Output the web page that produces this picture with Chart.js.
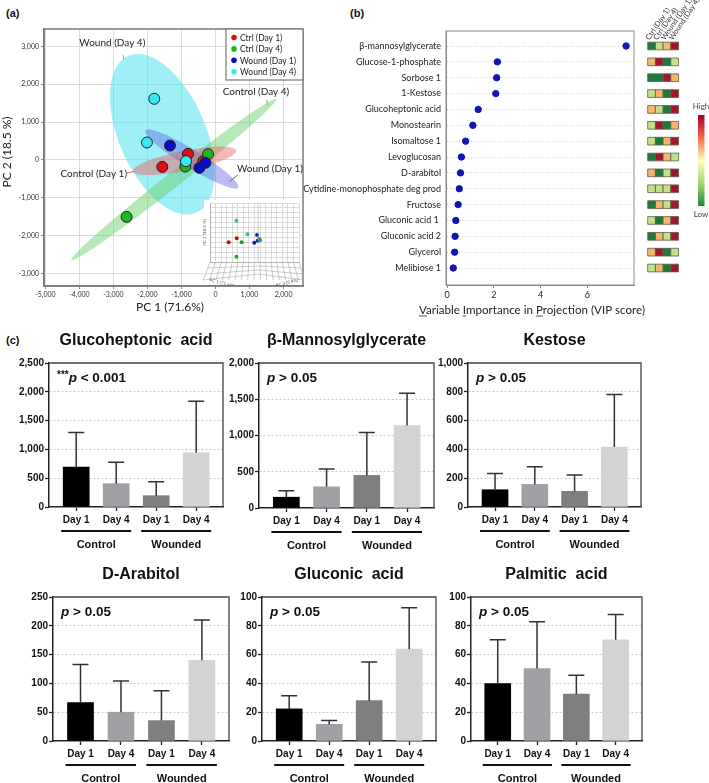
<!DOCTYPE html>
<html>
<head>
<meta charset="utf-8">
<script src="https://cdn.jsdelivr.net/npm/chart.js"></script>
<style>
body { margin: 0; background: #fff; width: 709px; height: 783px; overflow: hidden; position: relative; }
canvas { position: absolute; }
.plab { position: absolute; font: bold 11px "Liberation Sans", Arial, sans-serif; color: #111; }
</style>
</head>
<body>
<div class="plab" style="left:6px;top:7px">(a)</div>
<div class="plab" style="left:350px;top:7px">(b)</div>
<div class="plab" style="left:6px;top:334px">(c)</div>
<canvas id="pca" width="320" height="320" style="left:0;top:0"></canvas>
<canvas id="inset" width="108" height="88" style="left:196px;top:198px"></canvas>
<canvas id="vip" width="360" height="320" style="left:300px;top:0"></canvas>
<canvas id="heat" width="69" height="320" style="left:640px;top:0"></canvas>
<canvas id="c1"></canvas>
<canvas id="c2"></canvas>
<canvas id="c3"></canvas>
<canvas id="c4"></canvas>
<canvas id="c5"></canvas>
<canvas id="c6"></canvas>
<script>
// ---------- data: (a) PCA scores ----------
var pcaGroups = ['Ctrl (Day 1)', 'Ctrl (Day 4)', 'Wound (Day 1)', 'Wound (Day 4)'];
var pc1CtrlDay1 = [-1564, -808, -356];
var pc2CtrlDay1 = [-185, 159, -35];
var pc1CtrlDay4 = [-886, -219, -2614];
var pc2CtrlDay4 = [-176, 150, -1508];
var pc1WoundDay1 = [-1338, -474, -297];
var pc2WoundDay1 = [379, -212, -79];
var pc1WoundDay4 = [-1800, -2015, -867];
var pc2WoundDay4 = [1615, 459, -35];
var pc1Ticks = [-5000, -4000, -3000, -2000, -1000, 0, 1000, 2000];
var pc2Ticks = [-3000, -2000, -1000, 0, 1000, 2000, 3000];

// group ellipses in score units: centre, half axis a, half axis b
var ellipseNames = ['Control (Day 1)', 'Control (Day 4)', 'Wound (Day 1)', 'Wound (Day 4)'];
var ellipseCentre = [[-906, -26], [-1225, -521], [-695, 22], [-1564, 679]];
var ellipseAxisA = [[1512, 274], [3009, 2127], [1360, -754], [1001, -2074]];
var ellipseAxisB = [[58, -259], [134, -153], [-139, -203], [1168, 459]];
var ellipseTextAt = [[-3577, -371], [1190, 1792], [1600, -246], [-3032, 3090]];
var ellipseLeader = [[[-2634, -352], [-2398, -310]], [[1512, 1589], [1530, 1430]],
                     [[657, -397], [410, -575]], [[-2716, 2780], [-2696, 2648]]];

// 3D inset, projected positions (inset units 0-100)
var insetX = [[30, 21], [35.5, 29.7, 55.4], [52.9, 49.7, 53.6], [29.7, 42.1, 56.5]];
var insetY = [[40.2, 33.4], [33.4, 9, 39], [45.8, 32.7, 36.1], [70, 47, 36.8]];

// ---------- data: (b) VIP ----------
var vipNames = ['\u03b2-mannosylglycerate', 'Glucose-1-phosphate', 'Sorbose 1', '1-Kestose',
  'Glucoheptonic acid', 'Monostearin', 'Isomaltose 1', 'Levoglucosan', 'D-arabitol',
  'Cytidine-monophosphate deg prod', 'Fructose', 'Gluconic acid 1 ', 'Gluconic acid 2',
  'Glycerol', 'Melibiose 1'];
var vipScores = [7.66, 2.15, 2.12, 2.08, 1.33, 1.10, 0.79, 0.61, 0.57, 0.52, 0.47, 0.37, 0.34, 0.32, 0.26];
var vipTicks = [0, 2, 4, 6];
// relative level, 1 = low ... 4 = high
var heatCtrlDay1 = [1, 3, 1, 2, 3, 2, 2, 1, 3, 2, 1, 2, 1, 3, 2];
var heatCtrlDay4 = [2, 4, 1, 3, 2, 4, 1, 4, 1, 2, 3, 1, 3, 4, 3];
var heatWoundDay1 = [3, 1, 4, 1, 1, 1, 3, 3, 2, 2, 2, 3, 2, 1, 1];
var heatWoundDay4 = [4, 2, 3, 4, 4, 3, 4, 2, 4, 4, 4, 4, 4, 2, 4];

// ---------- data: (c) bar charts ----------
var dayLabels = ['Day 1', 'Day 4', 'Day 1', 'Day 4'];
var groupLabels = ['Control', 'Wounded'];
var glucoheptonicMean = [694, 405, 197, 942];
var glucoheptonicSd = [601, 370, 242, 896];
var mannosylMean = [149, 292, 450, 1137];
var mannosylSd = [88, 247, 590, 446];
var kestoseMean = [120, 157, 109, 416];
var kestoseSd = [113, 123, 113, 365];
var arabitolMean = [66.7, 50, 35.4, 140];
var arabitolSd = [66, 54, 52, 70];
var gluconicMean = [22.3, 11.6, 28, 63.8];
var gluconicSd = [9.2, 2.6, 26.8, 28.8];
var palmiticMean = [39.9, 50.3, 32.5, 70.3];
var palmiticSd = [30.4, 32.5, 13.2, 17.6];

Chart.defaults.font.family = 'Lato';
Chart.defaults.animation = false;

var pointColors = ['#e01010', '#22b522', '#0a0ac8', '#35e8f2'];
var ellipseFill = ['rgba(238,95,95,0.45)', 'rgba(95,205,95,0.45)', 'rgba(95,95,225,0.42)', 'rgba(80,225,240,0.55)'];
var leaderColor = ['#e06a50', '#6cbf6c', '#6a5ac0', '#6cc8cc'];

function fixTicks(list) {
    return function(s) { s.ticks = list.map(function(v){ return {value: v}; }); };
}
function fmt(v) { return v.toLocaleString('en-US'); }

// ---------- (a) PCA ----------
var pcaX = [pc1CtrlDay1, pc1CtrlDay4, pc1WoundDay1, pc1WoundDay4];
var pcaY = [pc2CtrlDay1, pc2CtrlDay4, pc2WoundDay1, pc2WoundDay4];

var pcaExtras = {
    id: 'pcaExtras',
    beforeDatasetsDraw: function(chart) {
        var ctx = chart.ctx, xs = chart.scales.x, ys = chart.scales.y, a = chart.chartArea;
        ctx.save();
        ctx.beginPath(); ctx.rect(a.left, a.top, a.right - a.left, a.bottom - a.top); ctx.clip();
        [3, 1, 2, 0].forEach(function(k) {
            var c = ellipseCentre[k], u = ellipseAxisA[k], w = ellipseAxisB[k];
            ctx.beginPath();
            for (var s = 0; s <= 96; s++) {
                var t = s / 96 * Math.PI * 2;
                var px = xs.getPixelForValue(c[0] + u[0] * Math.cos(t) + w[0] * Math.sin(t));
                var py = ys.getPixelForValue(c[1] + u[1] * Math.cos(t) + w[1] * Math.sin(t));
                if (s === 0) ctx.moveTo(px, py); else ctx.lineTo(px, py);
            }
            ctx.closePath();
            ctx.fillStyle = ellipseFill[k];
            ctx.fill();
        });
        ctx.restore();
    },
    afterDatasetsDraw: function(chart) {
        var ctx = chart.ctx, xs = chart.scales.x, ys = chart.scales.y, a = chart.chartArea;
        ctx.save();
        // frame top/right
        ctx.strokeStyle = '#7a7a7a'; ctx.lineWidth = 1.5;
        ctx.strokeRect(a.left, a.top, a.right - a.left, a.bottom - a.top);
        // ellipse labels with leader lines
        ctx.font = '10px Lato'; ctx.fillStyle = '#222';
        ctx.textAlign = 'center'; ctx.textBaseline = 'middle';
        ellipseNames.forEach(function(n, k) {
            ctx.fillText(n, xs.getPixelForValue(ellipseTextAt[k][0]), ys.getPixelForValue(ellipseTextAt[k][1]));
            var l = ellipseLeader[k];
            ctx.strokeStyle = leaderColor[k]; ctx.lineWidth = 1;
            ctx.beginPath();
            ctx.moveTo(xs.getPixelForValue(l[0][0]), ys.getPixelForValue(l[0][1]));
            ctx.lineTo(xs.getPixelForValue(l[1][0]), ys.getPixelForValue(l[1][1]));
            ctx.stroke();
        });
        // legend
        var lx = a.right - 77, ly = a.top;
        ctx.fillStyle = '#fff'; ctx.fillRect(lx, ly, 77, 51);
        ctx.strokeStyle = '#777'; ctx.lineWidth = 1.2; ctx.strokeRect(lx, ly, 77, 51);
        ctx.font = '8.5px Lato'; ctx.textAlign = 'left';
        pcaGroups.forEach(function(g, k) {
            var yy = ly + 8.5 + k * 11.4;
            ctx.fillStyle = pointColors[k];
            ctx.beginPath(); ctx.arc(lx + 8, yy, 2.8, 0, Math.PI * 2); ctx.fill();
            ctx.fillStyle = '#222';
            ctx.fillText(g, lx + 14, yy + 0.5);
        });
        // axis titles
        ctx.font = '12px Lato'; ctx.textAlign = 'center';
        ctx.fillText('PC 1 (71.6%)', 170, 307);
        ctx.translate(7, 152); ctx.rotate(-Math.PI / 2);
        ctx.fillText('PC 2 (18.5 %)', 0, 0);
        ctx.restore();
    }
};

new Chart(document.getElementById('pca'), {
    type: 'scatter',
    data: {
        datasets: pcaGroups.map(function(g, k) {
            return {
                label: g,
                data: pcaX[k].map(function(x, i) { return {x: x, y: pcaY[k][i]}; }),
                backgroundColor: pointColors[k],
                borderColor: '#222',
                borderWidth: 1,
                pointRadius: 5.5,
                order: 4 - k
            };
        })
    },
    options: {
        responsive: false,
        layout: {padding: {top: 29, right: 17, left: 0, bottom: 0}},
        plugins: {legend: {display: false}, tooltip: {enabled: false}},
        scales: {
            x: {
                min: -5041, max: 2572,
                afterBuildTicks: fixTicks(pc1Ticks),
                afterFit: function(s) { s.height = 34; },
                ticks: {callback: fmt, font: {size: 7}, color: '#333', padding: 2, maxRotation: 0, autoSkip: false},
                grid: {color: '#dcdcdc', tickColor: '#888', tickLength: 3},
                border: {color: '#7a7a7a', width: 1.5}
            },
            y: {
                min: -3336, max: 3461,
                afterBuildTicks: fixTicks(pc2Ticks),
                afterFit: function(s) { s.width = 44; },
                ticks: {callback: fmt, font: {size: 7}, color: '#333', padding: 2, autoSkip: false},
                grid: {color: '#dcdcdc', tickColor: '#888', tickLength: 3},
                border: {color: '#7a7a7a', width: 1.5}
            }
        }
    },
    plugins: [pcaExtras]
});

// small 3D score plot inset
var insetColors = ['#b01515', '#2a9a2a', '#1515aa', '#3ab8b0'];
var insetExtras = {
    id: 'insetExtras',
    beforeDraw: function(chart) {
        var ctx = chart.ctx;
        ctx.save(); ctx.fillStyle = '#fff'; ctx.fillRect(8, 2, 96, 84); ctx.restore();
    },
    afterDraw: function(chart) {
        var ctx = chart.ctx, a = chart.chartArea;
        var cx = chart.scales.x.getPixelForValue(54);
        ctx.save();
        ctx.strokeStyle = '#aaa'; ctx.lineWidth = 0.6;
        ctx.beginPath(); ctx.moveTo(cx, a.top); ctx.lineTo(cx, a.bottom); ctx.stroke();
        for (var k = 0; k <= 16; k++) {
            var x0 = a.left + (a.right - a.left) * k / 16;
            ctx.beginPath(); ctx.moveTo(x0, a.bottom); ctx.lineTo(x0 + (x0 - cx) * 0.14, a.bottom + 18); ctx.stroke();
        }
        for (var j = 1; j <= 3; j++) {
            var yy = a.bottom + 6 * j, f = 0.14 * j / 3;
            ctx.beginPath();
            ctx.moveTo(a.left + (a.left - cx) * f, yy); ctx.lineTo(cx, yy - 2 * j);
            ctx.lineTo(a.right + (a.right - cx) * f, yy); ctx.stroke();
        }
        ctx.fillStyle = '#555'; ctx.font = '4.5px Lato'; ctx.textAlign = 'center'; ctx.textBaseline = 'middle';
        ctx.save(); ctx.translate(9, (a.top + a.bottom) / 2); ctx.rotate(-Math.PI / 2);
        ctx.fillText('PC 2 (18.5 %)', 0, 0); ctx.restore();
        ctx.save(); ctx.translate(a.left + 12, a.bottom + 21); ctx.rotate(0.25);
        ctx.fillText('PC 1 (71.6%)', 0, 0); ctx.restore();
        ctx.save(); ctx.translate(a.right - 12, a.bottom + 21); ctx.rotate(-0.25);
        ctx.fillText('PC 3 (5.9%)', 0, 0); ctx.restore();
        ctx.restore();
    }
};
new Chart(document.getElementById('inset'), {
    type: 'scatter',
    data: {
        datasets: insetX.map(function(xs, k) {
            return {
                data: xs.map(function(x, i) { return {x: x, y: insetY[k][i]}; }),
                backgroundColor: insetColors[k], borderWidth: 0, pointRadius: 2
            };
        })
    },
    options: {
        responsive: false,
        layout: {padding: {top: 5, right: 5, left: 14, bottom: 24}},
        plugins: {legend: {display: false}, tooltip: {enabled: false}},
        scales: {
            x: {min: 0, max: 100, ticks: {display: false, stepSize: 6.25}, afterFit: function(s) { s.height = 0; },
                grid: {color: '#bbb', lineWidth: 0.5, drawTicks: false}, border: {color: '#999', width: 0.6}},
            y: {min: 0, max: 100, ticks: {display: false, stepSize: 100 / 12}, afterFit: function(s) { s.width = 0; },
                grid: {color: '#bbb', lineWidth: 0.5, drawTicks: false}, border: {color: '#999', width: 0.6}}
        }
    },
    plugins: [insetExtras]
});

// ---------- (b) VIP ----------
var vipExtras = {
    id: 'vipExtras',
    afterDraw: function(chart) {
        var ctx = chart.ctx, a = chart.chartArea;
        ctx.save();
        ctx.strokeStyle = '#8a8a8a'; ctx.lineWidth = 1;
        ctx.strokeRect(a.left, a.top, a.right - a.left, a.bottom - a.top);
        var title = 'Variable Importance in Projection (VIP score)';
        ctx.font = '11.6px Lato'; ctx.fillStyle = '#222'; ctx.textBaseline = 'alphabetic';
        var w = ctx.measureText(title).width;
        var x0 = 232 - w / 2, y0 = 314;
        ctx.fillText(title, x0, y0);
        ctx.lineWidth = 0.8; ctx.strokeStyle = '#222';
        [0, 9, 23].forEach(function(i) {
            var sx = x0 + ctx.measureText(title.slice(0, i)).width;
            var cw = ctx.measureText(title[i]).width;
            ctx.beginPath(); ctx.moveTo(sx, y0 + 2); ctx.lineTo(sx + cw, y0 + 2); ctx.stroke();
        });
        ctx.restore();
    }
};
new Chart(document.getElementById('vip'), {
    type: 'scatter',
    data: {
        datasets: [{
            data: vipScores.map(function(v, i) { return {x: v, y: i}; }),
            backgroundColor: '#1414b4', borderColor: '#1414b4', pointRadius: 3.2
        }]
    },
    options: {
        responsive: false,
        layout: {padding: {top: 31, right: 26, left: 0, bottom: 0}},
        plugins: {legend: {display: false}, tooltip: {enabled: false}},
        scales: {
            x: {
                min: -0.05, max: 8,
                afterBuildTicks: fixTicks(vipTicks),
                afterFit: function(s) { s.height = 35; },
                ticks: {font: {size: 9}, color: '#222', padding: 2, autoSkip: false, maxRotation: 0},
                grid: {drawOnChartArea: false, tickColor: '#888', tickLength: 3},
                border: {color: '#8a8a8a', width: 1}
            },
            y: {
                reverse: true, min: -0.946, max: 15.07,
                afterBuildTicks: fixTicks(vipNames.map(function(n, i) { return i; })),
                afterFit: function(s) { s.width = 146; },
                ticks: {callback: function(v) { return vipNames[v]; }, font: {size: 9}, color: '#222', padding: 5, autoSkip: false},
                grid: {color: '#c4c4c4', lineWidth: 0.8, drawTicks: false},
                border: {color: '#8a8a8a', width: 1, dash: [1, 2]}
            }
        }
    },
    plugins: [vipExtras]
});

// heat map of relative levels
var heatCols = [heatCtrlDay1, heatCtrlDay4, heatWoundDay1, heatWoundDay4];
var heatColors = ['#1b7b3f', '#c3e287', '#f7b46c', '#a5162c'];
var heatCells = [];
heatCols.forEach(function(col, k) {
    col.forEach(function(v, i) { heatCells.push({x: k, y: i, v: v}); });
});
var heatExtras = {
    id: 'heatExtras',
    afterDraw: function(chart) {
        var ctx = chart.ctx, xs = chart.scales.x, ys = chart.scales.y;
        ctx.save();
        ctx.font = '7.4px Lato'; ctx.fillStyle = '#333'; ctx.textBaseline = 'alphabetic';
        var top = ys.getPixelForValue(0) - 5.5;
        pcaGroups.forEach(function(g, k) {
            ctx.save();
            ctx.translate(xs.getPixelForValue(k) - 2, top);
            ctx.rotate(-0.98);
            ctx.fillText(g, 0, 0);
            ctx.restore();
        });
        var grad = ctx.createLinearGradient(0, 115, 0, 206);
        grad.addColorStop(0, '#a50026');
        grad.addColorStop(0.25, '#f46d43');
        grad.addColorStop(0.5, '#ffffbf');
        grad.addColorStop(0.75, '#a6d96a');
        grad.addColorStop(1, '#1a8a3e');
        ctx.fillStyle = grad; ctx.fillRect(58, 115, 6.5, 91);
        ctx.fillStyle = '#444'; ctx.font = '8px Lato'; ctx.textAlign = 'center'; ctx.textBaseline = 'middle';
        ctx.fillText('High', 61, 106);
        ctx.fillText('Low', 61, 214);
        ctx.restore();
    }
};
new Chart(document.getElementById('heat'), {
    type: 'scatter',
    data: {
        datasets: [{
            data: heatCells,
            pointStyle: 'rect', pointRadius: 5.45,
            backgroundColor: heatCells.map(function(c) { return heatColors[c.v - 1]; }),
            borderColor: '#5e5e48', borderWidth: 0.8
        }]
    },
    options: {
        responsive: false,
        layout: {padding: {top: 31, right: 29, left: 5, bottom: 35}},
        plugins: {legend: {display: false}, tooltip: {enabled: false}},
        scales: {
            x: {display: false, min: -0.6875, max: 3.6875},
            y: {display: false, reverse: true, min: -0.946, max: 15.07}
        }
    },
    plugins: [heatExtras]
});

// ---------- (c) bar charts ----------
var barColors = ['#000000', '#a0a0a4', '#7f7f7f', '#d3d3d3'];
var barFont = '"Liberation Sans", Arial, sans-serif';

function barChart(id, box, title, stars, note, mean, sd, yMax, yStep) {
    var padL = 45, padT = 32, padR = 8, padB = 46;
    var cv = document.getElementById(id);
    cv.width = box[2] - box[0] + padL + padR;
    cv.height = box[3] - box[1] + padT + padB;
    cv.style.left = (box[0] - padL) + 'px';
    cv.style.top = (box[1] - padT) + 'px';

    var extras = {
        id: 'barExtras',
        afterDatasetsDraw: function(chart) {
            var ctx = chart.ctx, ys = chart.scales.y;
            ctx.save();
            ctx.strokeStyle = '#333'; ctx.lineWidth = 1.5;
            chart.getDatasetMeta(0).data.forEach(function(bar, i) {
                var top = ys.getPixelForValue(mean[i] + sd[i]);
                ctx.beginPath();
                ctx.moveTo(bar.x, bar.y); ctx.lineTo(bar.x, top);
                ctx.moveTo(bar.x - 8, top); ctx.lineTo(bar.x + 8, top);
                ctx.stroke();
            });
            ctx.restore();
        },
        afterDraw: function(chart) {
            var ctx = chart.ctx, a = chart.chartArea, xs = chart.scales.x;
            ctx.save();
            // top and right of the frame
            ctx.strokeStyle = '#444'; ctx.lineWidth = 1.3;
            ctx.beginPath();
            ctx.moveTo(a.left, a.top); ctx.lineTo(a.right, a.top); ctx.lineTo(a.right, a.bottom);
            ctx.stroke();
            // title
            ctx.fillStyle = '#111'; ctx.textAlign = 'center'; ctx.textBaseline = 'middle';
            ctx.font = 'bold 16px ' + barFont;
            ctx.fillText(title, (a.left + a.right) / 2, a.top - 22);
            // p value note
            ctx.textAlign = 'left';
            var x = a.left + 8, y = a.top + 15.5;
            if (stars) {
                ctx.font = 'bold 10px ' + barFont;
                ctx.fillText(stars, x, y - 3);
                x += ctx.measureText(stars).width;
            }
            ctx.font = 'italic bold 13.5px ' + barFont;
            ctx.fillText('p', x, y);
            x += ctx.measureText('p').width;
            ctx.font = 'bold 13.5px ' + barFont;
            ctx.fillText(note, x, y);
            // group underlines and names
            ctx.lineWidth = 2; ctx.strokeStyle = '#111';
            ctx.font = 'bold 11px ' + barFont; ctx.textAlign = 'center';
            groupLabels.forEach(function(g, k) {
                var x1 = xs.getPixelForValue(2 * k) - 15, x2 = xs.getPixelForValue(2 * k + 1) + 15;
                ctx.beginPath(); ctx.moveTo(x1, a.bottom + 24); ctx.lineTo(x2, a.bottom + 24); ctx.stroke();
                ctx.fillText(g, (x1 + x2) / 2, a.bottom + 37.5);
            });
            ctx.restore();
        }
    };

    return new Chart(cv, {
        type: 'bar',
        data: {
            datasets: [{
                data: mean.map(function(v, i) { return {x: i, y: v}; }),
                backgroundColor: barColors,
                borderWidth: 0,
                barThickness: 26
            }]
        },
        options: {
            responsive: false,
            layout: {padding: {top: padT, right: padR, left: 0, bottom: 0}},
            plugins: {legend: {display: false}, tooltip: {enabled: false}},
            scales: {
                x: {
                    type: 'linear', min: -0.68, max: 3.67, offset: false,
                    afterBuildTicks: fixTicks([0, 1, 2, 3]),
                    afterFit: function(s) { s.height = padB; },
                    ticks: {callback: function(v) { return dayLabels[v]; }, font: {family: barFont, size: 10, weight: 'bold'},
                            color: '#111', padding: 3, autoSkip: false, maxRotation: 0},
                    grid: {drawOnChartArea: false, offset: false, tickLength: 4, tickColor: '#222', tickWidth: 1.3},
                    border: {color: '#222', width: 1.5}
                },
                y: {
                    min: 0, max: yMax,
                    afterFit: function(s) { s.width = padL; },
                    ticks: {stepSize: yStep, callback: fmt, font: {family: barFont, size: 10, weight: 'bold'},
                            color: '#111', padding: 1},
                    grid: {
                        color: function(c) {
                            return (c.tick && (c.tick.value === 0 || c.tick.value === yMax)) ? 'rgba(0,0,0,0)' : '#c8c8c8';
                        },
                        tickColor: '#222', tickLength: 4, tickWidth: 1.3, tickBorderDash: [], lineWidth: 1
                    },
                    border: {color: '#222', width: 1.5, dash: [2, 2]}
                }
            }
        },
        plugins: [extras]
    });
}

barChart('c1', [49, 363, 223, 507], 'Glucoheptonic  acid', '***', ' < 0.001', glucoheptonicMean, glucoheptonicSd, 2500, 500);
barChart('c2', [259, 363, 434, 508], '\u03b2-Mannosylglycerate', '', ' > 0.05', mannosylMean, mannosylSd, 2000, 500);
barChart('c3', [468, 363, 641, 507], 'Kestose', '', ' > 0.05', kestoseMean, kestoseSd, 1000, 200);
barChart('c4', [53, 597, 229, 741], 'D-Arabitol', '', ' > 0.05', arabitolMean, arabitolSd, 250, 50);
barChart('c5', [262, 597, 436, 741], 'Gluconic  acid', '', ' > 0.05', gluconicMean, gluconicSd, 100, 20);
barChart('c6', [471, 597, 642, 741], 'Palmitic  acid', '', ' > 0.05', palmiticMean, palmiticSd, 100, 20);
</script>
</body>
</html>
